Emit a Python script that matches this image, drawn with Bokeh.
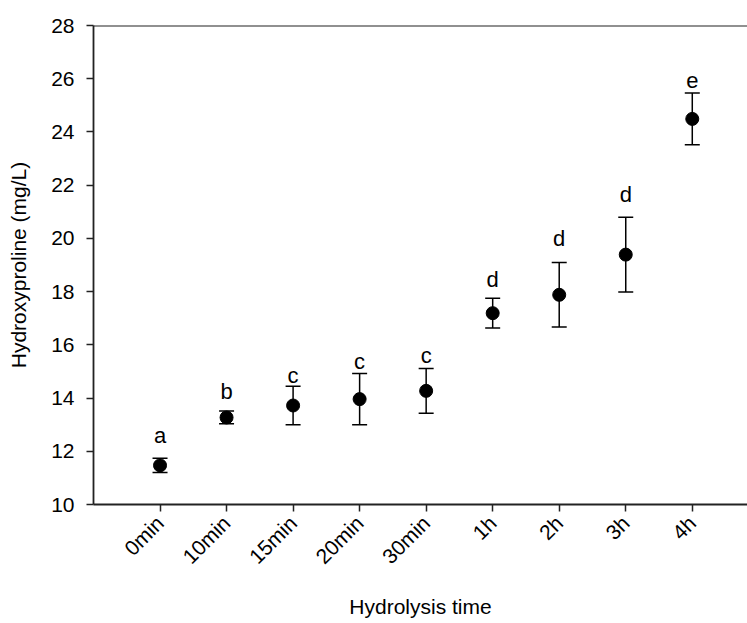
import math
from bokeh.plotting import figure
from bokeh.models import ColumnDataSource, Whisker, TeeHead, FixedTicker, Span, Range1d
from bokeh.embed import file_html
from bokeh.resources import INLINE
from bokeh.core.properties import value

categories = ["0min", "10min", "15min", "20min", "30min", "1h", "2h", "3h", "4h"]
means = [11.47, 13.27, 13.72, 13.96, 14.27, 17.19, 17.88, 19.39, 24.49]
errors = [0.27, 0.24, 0.72, 0.96, 0.84, 0.56, 1.21, 1.40, 0.97]
letters = ["a", "b", "c", "c", "c", "d", "d", "d", "e"]
letter_y = [12.59, 14.25, 14.85, 15.39, 15.60, 18.45, 19.99, 21.64, 25.93]
y_ticks = [10, 12, 14, 16, 18, 20, 22, 24, 26, 28]

xs = list(range(1, len(categories) + 1))
src = ColumnDataSource(dict(
    x=xs, y=means,
    upper=[m + e for m, e in zip(means, errors)],
    lower=[m - e for m, e in zip(means, errors)],
    ly=letter_y, lt=letters,
))

FONT = "Liberation Sans"

p = figure(width=747, height=623, output_backend="svg", toolbar_location=None,
           x_range=Range1d(0, 9.83), y_range=Range1d(10, 28))
p.min_border_left = 93
p.min_border_top = 25
p.min_border_bottom = 119
p.min_border_right = 0
p.outline_line_color = None
p.grid.visible = False
p.background_fill_color = "white"
p.border_fill_color = "white"

w = Whisker(source=src, base="x", upper="upper", lower="lower",
            line_color="black", line_width=1.5,
            upper_head=TeeHead(size=15, line_color="black", line_width=1.5),
            lower_head=TeeHead(size=15, line_color="black", line_width=1.5))
p.add_layout(w)

p.scatter("x", "y", source=src, size=13, marker="circle",
          fill_color="black", line_color="black")

p.text("x", "ly", text="lt", source=src, text_align="center",
       text_baseline="alphabetic", text_font=value(FONT),
       text_font_size="22px", text_color="black")

p.add_layout(Span(location=28, dimension="width", line_color="#222222", line_width=1.8))

xa = p.xaxis[0]
xa.ticker = FixedTicker(ticks=xs)
xa.major_label_overrides = {i: c for i, c in zip(xs, categories)}
xa.major_label_orientation = math.pi / 4
xa.axis_label = "Hydrolysis time"

ya = p.yaxis[0]
ya.ticker = FixedTicker(ticks=y_ticks)
ya.axis_label = "Hydroxyproline (mg/L)"

for ax in (xa, ya):
    ax.axis_line_color = "#222222"
    ax.axis_line_width = 1.8
    ax.major_tick_line_color = "#222222"
    ax.major_tick_line_width = 1.5
    ax.major_tick_in = 0
    ax.major_tick_out = 7
    ax.minor_tick_line_color = None
    ax.major_label_text_font = FONT
    ax.major_label_text_font_size = "21px"
    ax.major_label_text_color = "black"
    ax.axis_label_text_font = FONT
    ax.axis_label_text_font_size = "21px"
    ax.axis_label_text_font_style = "normal"
    ax.axis_label_text_color = "black"

xa.major_label_standoff = 8
xa.axis_label_standoff = 16
ya.major_label_standoff = 12
ya.axis_label_standoff = 18

open("out.html", "w").write(file_html(p, INLINE))
